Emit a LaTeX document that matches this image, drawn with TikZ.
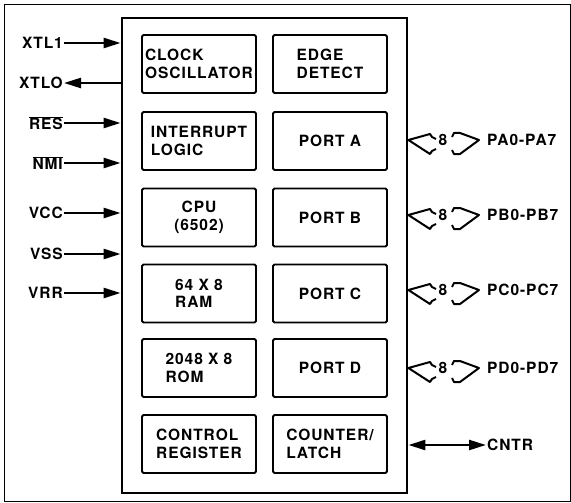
\documentclass[tikz,border=0pt]{standalone}
\usepackage{fontspec}
\setmainfont{TeX Gyre Heros}
\usetikzlibrary{arrows.meta}
\begin{document}
\begin{tikzpicture}[x=1pt, y=-1pt,
    lbl/.style={font=\fontsize{15.5}{17.5}\selectfont\bfseries\addfontfeature{LetterSpace=6}},
    block/.style={lbl, draw, line width=1.8pt, rounded corners=1.5pt,
      minimum width=114pt, minimum height=58pt, inner sep=0pt, align=left},
    chipbox/.style={draw, line width=2.8pt, minimum width=285pt, minimum height=475pt, inner sep=0pt},
    pin/.style={lbl, inner sep=1pt},
    sig/.style={line width=2.4pt, -{Triangle[length=17pt,width=10pt]}},
    bus/.style={line width=2pt, line join=round}]
  \useasboundingbox (0,0) rectangle (571,503);
  % outer frame
  \draw[line width=0.8pt] (4,4) rectangle (570,501);
  % the chip
  \node[chipbox] (chip) at (264.5,255.5) {};
  % left column
  \node[block] (clk)  at (199,64)    {CLOCK\\OSCILLATOR};
  \node[block] (irq)  at (199,141)   {INTERRUPT\\LOGIC};
  \node[block, align=center] (cpu) at (199,217.5) {CPU\\(6502)};
  \node[block] (ram)  at (199,293.5) {64 X 8\\RAM};
  \node[block] (rom)  at (199,368)   {2048 X 8\\ROM};
  \node[block] (ctrl) at (199,444)   {CONTROL\\REGISTER};
  % right column
  \node[block] (edge) at (330,64)    {EDGE\\DETECT};
  \node[block] (pa)   at (330,141)   {PORT A};
  \node[block] (pb)   at (330,217.5) {PORT B};
  \node[block] (pc)   at (330,293.5) {PORT C};
  \node[block] (pd)   at (330,368)   {PORT D};
  \node[block] (cnt)  at (330,444)   {COUNTER/\\LATCH};
  % pins on the left
  \node[pin, anchor=east] (xtli) at (64,43)  {XTL1};
  \node[pin, anchor=east] (xtlo) at (64,83)  {XTLO};
  \node[pin, anchor=east] (res)  at (64,123) {$\overline{\mbox{RES}}$};
  \node[pin, anchor=east] (nmi)  at (64,163) {$\overline{\mbox{NMI}}$};
  \node[pin, anchor=east] (vcc)  at (64,213) {VCC};
  \node[pin, anchor=east] (vss)  at (64,254) {VSS};
  \node[pin, anchor=east] (vrr)  at (64,293) {VRR};
  \foreach \p in {xtli, res, nmi, vcc, vss, vrr}
    \draw[sig] (\p.east) -- (\p.east -| chip.west);
  \draw[sig] (xtlo.east -| chip.west) -- (xtlo.east);
  % ports on the right
  \foreach \p/\y/\txt in {a/140/PA0-PA7, b/215/PB0-PB7, c/290/PC0-PC7, d/368/PD0-PD7} {
    \node[pin] (w\p) at (443,\y) {8};
    \node[pin, anchor=west] (p\p) at (486,\y) {\txt};
    \draw[bus] ([xshift=-7pt,yshift=-9pt]w\p.center) -- ++(-4,2) -- ++(-2,3)
      -- (w\p.center -| chip.east) -- ([xshift=-13pt,yshift=6pt]w\p.center) -- ++(2,3) -- ++(4,2);
    \draw[bus] ([xshift=9pt,yshift=-10pt]w\p.center) -- ++(2,4) -- ++(6,0)
      -- ([xshift=36pt]w\p.center) -- ([xshift=17pt,yshift=7pt]w\p.center) -- ++(-6,0) -- ++(-2,4);
  }
  \node[pin, anchor=west] (cntr) at (486,445) {CNTR};
  \draw[sig, {Triangle[length=17pt,width=10pt]}-{Triangle[length=17pt,width=10pt]}]
    (cntr.west -| chip.east) -- (cntr.west);
\end{tikzpicture}
\end{document}
